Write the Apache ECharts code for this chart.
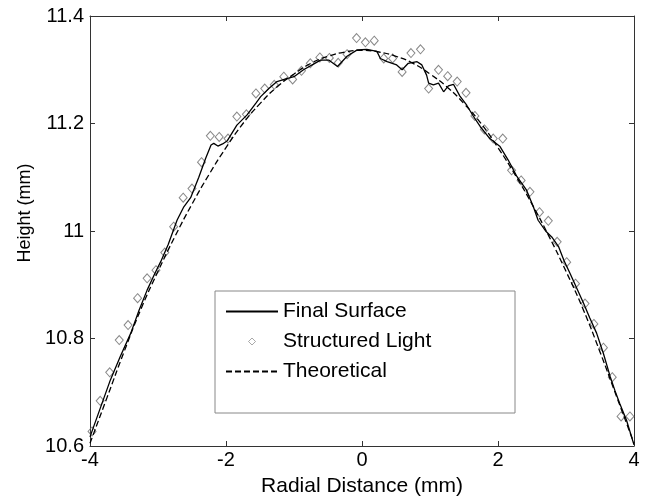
<!DOCTYPE html>
<html>
<head>
<meta charset="utf-8">
<script src="https://cdn.jsdelivr.net/npm/echarts@6/dist/echarts.min.js"></script>
<style>html,body{margin:0;padding:0;background:#fff}#c{width:647px;height:502px}</style>
</head>
<body>
<div id="c"></div>
<script>
var xTicks = [-4, -2, 0, 2, 4];
var yTicks = [10.6, 10.8, 11, 11.2, 11.4];

var structuredX = [-3.97,-3.85,-3.71,-3.57,-3.44,-3.30,-3.16,-3.03,-2.90,-2.77,-2.63,-2.50,-2.36,-2.23,-2.10,-1.97,-1.84,-1.70,-1.56,-1.43,-1.29,-1.15,-1.02,-0.89,-0.76,-0.62,-0.48,-0.35,-0.22,-0.08,0.05,0.18,0.32,0.45,0.59,0.72,0.86,0.98,1.125,1.26,1.40,1.53,1.66,1.80,1.93,2.07,2.20,2.34,2.47,2.61,2.74,2.87,3.01,3.14,3.28,3.41,3.55,3.68,3.81,3.94];
var structuredY = [10.627,10.684,10.737,10.797,10.825,10.875,10.912,10.927,10.960,11.008,11.062,11.079,11.128,11.177,11.175,11.172,11.213,11.217,11.256,11.265,11.272,11.287,11.282,11.298,11.312,11.323,11.322,11.313,11.329,11.359,11.351,11.354,11.321,11.321,11.296,11.331,11.338,11.265,11.300,11.288,11.278,11.257,11.214,11.189,11.172,11.172,11.113,11.094,11.073,11.035,11.019,10.980,10.942,10.902,10.865,10.827,10.783,10.728,10.655,10.655];

var finalX = [-4.0,-3.85,-3.70,-3.55,-3.40,-3.28,-3.16,-3.05,-2.96,-2.85,-2.72,-2.62,-2.52,-2.40,-2.30,-2.22,-2.18,-2.12,-2.05,-1.98,-1.84,-1.69,-1.56,-1.49,-1.37,-1.25,-1.12,-1.0,-0.86,-0.72,-0.61,-0.49,-0.36,-0.22,-0.07,0.07,0.22,0.27,0.37,0.51,0.59,0.68,0.81,0.88,0.95,0.98,1.05,1.125,1.20,1.27,1.345,1.44,1.54,1.64,1.74,1.88,2.03,2.15,2.28,2.42,2.52,2.59,2.70,2.79,2.89,2.97,3.06,3.16,3.26,3.35,3.45,3.55,3.65,3.72,3.79,3.89,4.0];
var finalY = [10.617,10.670,10.723,10.768,10.810,10.852,10.890,10.920,10.943,10.975,11.020,11.045,11.062,11.100,11.135,11.160,11.163,11.158,11.162,11.168,11.197,11.216,11.238,11.250,11.265,11.278,11.283,11.287,11.300,11.310,11.318,11.318,11.306,11.325,11.337,11.338,11.334,11.321,11.315,11.309,11.300,11.312,11.315,11.309,11.290,11.275,11.272,11.275,11.259,11.270,11.273,11.251,11.234,11.213,11.194,11.172,11.157,11.132,11.101,11.076,11.045,11.020,11.000,10.989,10.971,10.945,10.921,10.893,10.865,10.838,10.810,10.772,10.729,10.703,10.679,10.648,10.602];

var theoryX = [-4,-3.75,-3.5,-3.25,-3,-2.75,-2.5,-2.25,-2,-1.75,-1.5,-1.25,-1,-0.75,-0.5,-0.25,0,0.25,0.5,0.75,1,1.25,1.5,1.75,2,2.25,2.5,2.75,3,3.25,3.5,3.75,4];
var theoryY = [10.605,10.690,10.775,10.855,10.925,10.990,11.050,11.105,11.155,11.200,11.237,11.268,11.292,11.312,11.325,11.333,11.336,11.333,11.325,11.312,11.292,11.268,11.237,11.200,11.155,11.105,11.050,10.990,10.925,10.855,10.775,10.690,10.605];

function pairs(xs, ys){ return xs.map(function(x,i){ return [x, ys[i]]; }); }

var FONT = 'Liberation Sans, Arial, sans-serif';
var axisCol = '#333';
function xAx(pos, showLabel){
  return {
    type:'value', position:pos, min:xTicks[0], max:xTicks[xTicks.length-1], interval:2,
    axisLine:{show:true, onZero:false, lineStyle:{color:axisCol, width:1}},
    axisTick:{show:true, inside:true, length:5, lineStyle:{color:axisCol}},
    axisLabel:{show:showLabel, margin:4, color:'#000', fontFamily:FONT, fontSize:20},
    splitLine:{show:false},
    name: showLabel ? 'Radial Distance (mm)' : '',
    nameLocation:'middle', nameGap:30,
    nameTextStyle:{color:'#000', fontFamily:FONT, fontSize:21}
  };
}
function yAx(pos, showLabel){
  return {
    type:'value', position:pos, min:yTicks[0], max:yTicks[yTicks.length-1], interval:0.2,
    axisLine:{show:true, onZero:false, lineStyle:{color:axisCol, width:1}},
    axisTick:{show:true, inside:true, length:5, lineStyle:{color:axisCol}},
    axisLabel:{show:showLabel, margin:6, color:'#000', fontFamily:FONT, fontSize:20,
      formatter:function(v){ return String(Math.round(v*10)/10); }},
    splitLine:{show:false}
  };
}

var hiddenDot = {color:'rgba(0,0,0,0)', borderColor:'rgba(0,0,0,0)', borderWidth:0, opacity:0};

var chart = echarts.init(document.getElementById('c'), null, {renderer:'canvas'});
chart.setOption({
  animation:false,
  backgroundColor:'#fff',
  grid:{left:90, right:13, top:16, bottom:56, containLabel:false},
  xAxis:[xAx('bottom', true), xAx('top', false)],
  yAxis:[yAx('left', true), yAx('right', false)],
  legend:{
    orient:'vertical', left:225, top:301, padding:0, itemGap:9,
    itemWidth:52, itemHeight:7, z:10, symbolKeepAspect:true,
    textStyle:{color:'#000', fontFamily:FONT, fontSize:21, lineHeight:21},
    data:[
      {name:'Final Surface', itemStyle:hiddenDot},
      {name:'Structured Light', icon:'path://M5,0 L10,5 L5,10 L0,5 Z',
       itemStyle:{color:'rgba(0,0,0,0)', borderColor:'#777', borderWidth:0.8}},
      {name:'Theoretical', itemStyle:hiddenDot}
    ]
  },
  graphic:[
    {type:'rect', z:9, shape:{x:215, y:291, width:300, height:122},
     style:{fill:'#fff', stroke:'#888', lineWidth:1}},
    {type:'text', x:25, y:213, rotation:Math.PI/2, z:10,
     style:{text:'Height (mm)', fill:'#000', align:'center', verticalAlign:'middle',
            font:'18px Liberation Sans, Arial, sans-serif'}}
  ],
  series:[
    {name:'Final Surface', type:'line', xAxisIndex:0, yAxisIndex:0, symbol:'none',
     data:pairs(finalX, finalY), lineStyle:{color:'#000', width:1.3}, itemStyle:{color:'#000'}, z:3},
    {name:'Structured Light', type:'scatter', xAxisIndex:0, yAxisIndex:0, symbol:'diamond', symbolSize:[8,9],
     data:pairs(structuredX, structuredY),
     itemStyle:{color:'rgba(0,0,0,0)', borderColor:'#6a6a6a', borderWidth:1}, z:2},
    {name:'Theoretical', type:'line', xAxisIndex:0, yAxisIndex:0, symbol:'none', smooth:true,
     data:pairs(theoryX, theoryY), lineStyle:{color:'#000', width:1.3, type:[6,3]}, itemStyle:{color:'#000'}, z:3}
  ]
});
</script>
</body>
</html>
